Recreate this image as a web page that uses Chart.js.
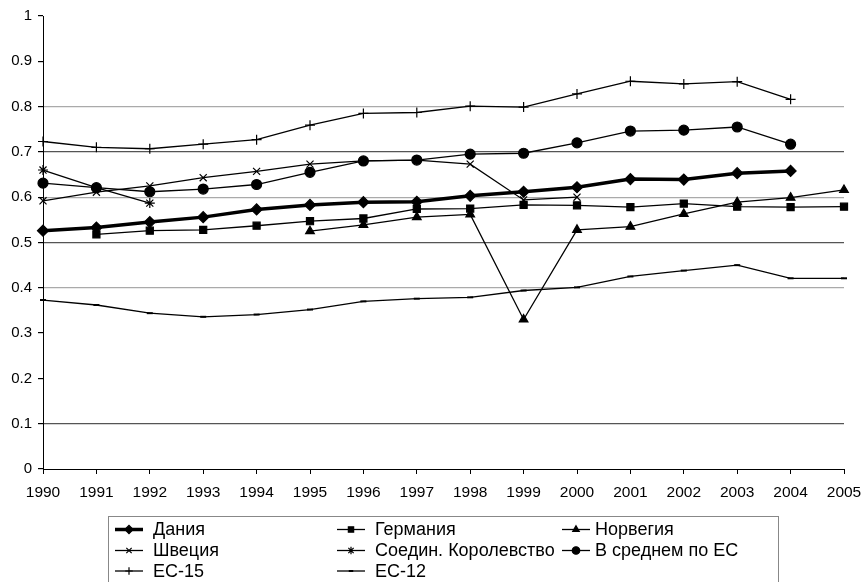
<!DOCTYPE html>
<html>
<head>
<meta charset="utf-8">
<script src="https://cdn.jsdelivr.net/npm/chart.js@4"></script>
<style>
    body { margin: 0; background: #fff; }
    #wrap { width: 863px; height: 582px; position: relative; }
</style>
</head>
<body>
<div id="wrap"><canvas id="chart"></canvas></div>
<script>
// Jahre (Kategorien)
const years = ['1990', '1991', '1992', '1993', '1994', '1995', '1996', '1997',
    '1998', '1999', '2000', '2001', '2002', '2003', '2004', '2005'];

// Werte pro Serie, null = kein Wert
const dania = [0.526, 0.533, 0.545, 0.556, 0.573, 0.583, 0.589, 0.590, 0.603, 0.612, 0.622, 0.640, 0.639, 0.653, 0.658, null];
const germania = [null, 0.518, 0.526, 0.528, 0.537, 0.547, 0.553, 0.574, 0.575, 0.583, 0.582, 0.578, 0.586, 0.579, 0.578, 0.579];
const norvegia = [null, null, null, null, null, 0.525, 0.539, 0.556, 0.562, 0.330, 0.528, 0.535, 0.563, 0.589, 0.599, 0.616];
const shvecia = [0.592, 0.611, 0.625, 0.643, 0.657, 0.673, 0.680, 0.682, 0.673, 0.594, 0.600, null, null, null, null, null];
const uk = [0.660, 0.621, 0.587, null, null, null, null, null, null, null, null, null, null, null, null, null];
const euAvg = [0.631, 0.621, 0.612, 0.618, 0.628, 0.655, 0.680, 0.682, 0.695, 0.697, 0.720, 0.746, 0.748, 0.755, 0.717, null];
const eu15 = [0.723, 0.710, 0.707, 0.717, 0.727, 0.759, 0.785, 0.787, 0.801, 0.799, 0.828, 0.856, 0.850, 0.855, 0.816, null];
const eu12 = [0.373, 0.362, 0.344, 0.336, 0.341, 0.352, 0.370, 0.376, 0.379, 0.394, 0.401, 0.425, 0.438, 0.450, 0.421, 0.421];

const seriesNames = ['Дания', 'Германия', 'Норвегия', 'Швеция', 'Соедин. Королевство',
    'В среднем по ЕС', 'ЕС-15', 'ЕС-12'];

// Y-Achse
const yMin = 0;
const yMax = 1;
const yStep = 0.1;

const FONT = "'Liberation Sans', Arial, Helvetica, sans-serif";

function makeSet(label, data, style, radius, width) {
    return {
        label: label,
        data: data,
        borderColor: '#000',
        backgroundColor: '#000',
        borderWidth: width,
        pointStyle: style,
        pointRadius: radius,
        pointBorderWidth: style === 'line' ? 2 : 1.2,
        pointBackgroundColor: '#000',
        pointBorderColor: '#000',
        tension: 0,
        spanGaps: false,
        clip: false
    };
}

const datasets = [
    makeSet(seriesNames[0], dania, 'rectRot', 5.5, 3.5),
    makeSet(seriesNames[1], germania, 'rect', 5, 1.3),
    makeSet(seriesNames[2], norvegia, 'triangle', 5, 1.3),
    makeSet(seriesNames[3], shvecia, 'crossRot', 5, 1.3),
    makeSet(seriesNames[4], uk, 'star', 5, 1.3),
    makeSet(seriesNames[5], euAvg, 'circle', 5, 1.3),
    makeSet(seriesNames[6], eu15, 'cross', 5, 1.3),
    makeSet(seriesNames[7], eu12, 'line', 3, 1.3)
];

// Gitterlinien wie im Original: einige heller, einige fehlen
function gridColor(ctx) {
    const v = Math.round(ctx.tick.value * 10);
    if (v === 8 || v === 6 || v === 4) return '#aaaaaa';
    if (v === 7 || v === 5 || v === 1) return '#555555';
    return 'rgba(0,0,0,0)';
}

// Legende als eigenes Raster (3 Spalten)
const gridLegend = {
    id: 'gridLegend',
    afterDraw(chart) {
        const ctx = chart.ctx;
        const lineX = [115, 337, 562];
        const textX = [153, 375, 595];
        const rowY = [529.5, 550.5, 571];
        ctx.save();
        ctx.strokeStyle = '#888';
        ctx.lineWidth = 1;
        ctx.strokeRect(108.5, 516.5, 670, 80);
        ctx.font = '18px ' + FONT;
        ctx.textBaseline = 'middle';
        ctx.textAlign = 'left';
        chart.data.datasets.forEach((ds, i) => {
            const col = i % 3;
            const row = Math.floor(i / 3);
            const x = lineX[col];
            const y = rowY[row];
            ctx.strokeStyle = '#000';
            ctx.fillStyle = '#000';
            ctx.lineWidth = ds.borderWidth;
            ctx.beginPath();
            ctx.moveTo(x, y);
            ctx.lineTo(x + 28, y);
            ctx.stroke();
            ctx.lineWidth = ds.pointBorderWidth;
            Chart.helpers.drawPoint(ctx, {
                pointStyle: ds.pointStyle,
                radius: ds.pointRadius * 0.75,
                rotation: 0,
                borderWidth: ds.pointBorderWidth
            }, x + 14, y);
            ctx.fillStyle = '#000';
            ctx.fillText(ds.label, textX[col], y + 1);
        });
        ctx.restore();
    }
};

const ctx = document.getElementById('chart').getContext('2d');
const myChart = new Chart(ctx, {
    type: 'line',
    data: {
        labels: years,
        datasets: datasets
    },
    options: {
        responsive: true,
        maintainAspectRatio: false,
        animation: false,
        layout: {
            padding: { top: 16, right: 19, bottom: 73, left: 0 }
        },
        plugins: {
            legend: { display: false },
            tooltip: { enabled: false }
        },
        scales: {
            x: {
                type: 'category',
                offset: false,
                border: { color: '#000', width: 1 },
                grid: {
                    drawOnChartArea: false,
                    drawTicks: true,
                    tickLength: 5,
                    tickColor: '#000'
                },
                ticks: {
                    color: '#000',
                    font: { family: FONT, size: 15.5 },
                    padding: 9,
                    maxRotation: 0,
                    autoSkip: false
                },
                afterFit(scale) {
                    scale.height = 40;
                    scale.paddingLeft = 0;
                    scale.paddingRight = 0;
                }
            },
            y: {
                min: yMin,
                max: yMax,
                border: { color: '#000', width: 1 },
                grid: {
                    color: gridColor,
                    lineWidth: 1.2,
                    drawTicks: true,
                    tickLength: 5,
                    tickColor: '#000'
                },
                ticks: {
                    stepSize: yStep,
                    color: '#000',
                    font: { family: FONT, size: 15 },
                    padding: 6,
                    callback: v => String(+v.toFixed(1))
                },
                afterFit(scale) { scale.width = 43; }
            }
        }
    },
    plugins: [gridLegend]
});
</script>
</body>
</html>
